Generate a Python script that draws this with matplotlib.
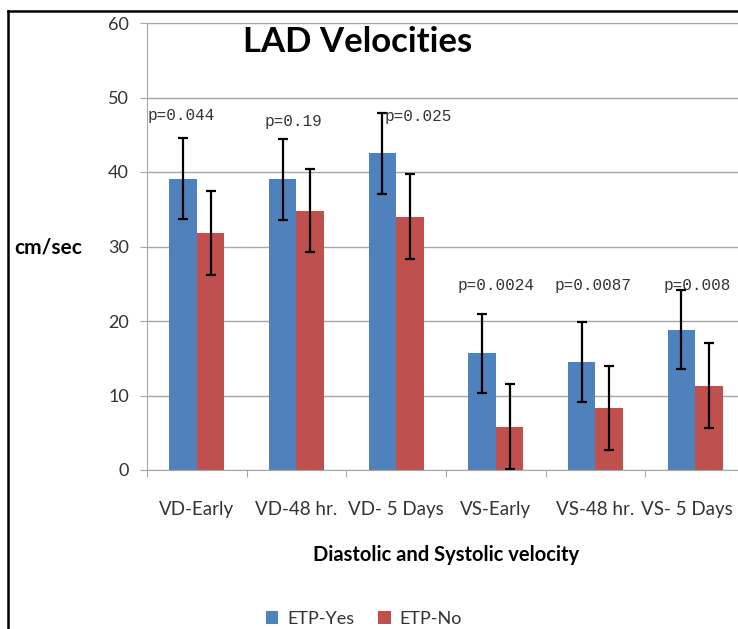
import numpy as np
import matplotlib.pyplot as plt
from matplotlib.lines import Line2D

categories = ["VD-Early", "VD-48 hr.", "VD- 5 Days", "VS-Early", "VS-48 hr.", "VS- 5 Days"]
etp_yes = [39.1, 39.0, 42.5, 15.7, 14.5, 18.8]
etp_no = [31.8, 34.8, 34.0, 5.8, 8.3, 11.3]
err_yes = [5.4, 5.4, 5.4, 5.3, 5.4, 5.3]
err_no = [5.6, 5.6, 5.7, 5.7, 5.6, 5.7]
p_labels = ["p=0.044", "p=0.19", "p=0.025", "p=0.0024", "p=0.0087", "p=0.008"]
p_x = [-0.16, -0.03, 0.22, 0.0, -0.02, 0.02]
p_y = [47.6, 46.8, 47.4, 24.8, 24.7, 24.8]

plt.rcParams["font.family"] = ["Lato", "DejaVu Sans"]

fig = plt.figure(figsize=(7.38, 6.29), dpi=100)
ax = fig.add_axes([147 / 738, 1 - 470 / 629, 598 / 738, 447 / 629])

x = np.arange(len(categories))
w = 0.275
ekw = dict(ecolor="black", elinewidth=1.6, capsize=3.8, capthick=1.6)
ax.bar(x - w / 2, etp_yes, w, color="#4F81BD", yerr=err_yes, error_kw=ekw,
       label="ETP-Yes", zorder=2)
ax.bar(x + w / 2, etp_no, w, color="#C0504D", yerr=err_no, error_kw=ekw,
       label="ETP-No", zorder=2)

for i, lab in enumerate(p_labels):
    ax.text(i + p_x[i], p_y[i], lab, ha="center", va="center",
            family="Liberation Mono", fontsize=11.5, color="#333333", zorder=3)

ax.set_xlim(-0.5, len(categories) - 0.5)
ax.set_ylim(0, 60)
ax.set_yticks(range(0, 61, 10))
ax.yaxis.grid(True, color="#a6a6a6", lw=1, zorder=0)
ax.set_axisbelow(True)
ax.set_xticks(np.arange(-0.5, len(categories), 1.0), minor=False)
ax.set_xticklabels([])
# last label nudged left so it stays inside the cropped right edge
label_pos = x.astype(float)
label_pos[-1] -= 0.08
ax.set_xticks(label_pos, minor=True)
ax.set_xticklabels(categories, minor=True, fontsize=13.5, color="#333333")
ax.tick_params(axis="x", which="minor", length=0, pad=22)
ax.tick_params(axis="x", which="major", length=5, color="#a6a6a6")
ax.tick_params(axis="y", length=5, color="#a6a6a6", labelsize=13,
               labelcolor="#333333", pad=8)
for s in ["top", "right"]:
    ax.spines[s].set_visible(False)
for s in ["left", "bottom"]:
    ax.spines[s].set_color("#a6a6a6")

ax.set_xlabel("Diastolic and Systolic velocity", fontsize=14.5, fontweight="bold",
              labelpad=20)
fig.text(48 / 738, 1 - 247 / 629, "cm/sec", ha="center", va="center",
         fontsize=15, fontweight="bold")
fig.text(358 / 738, 1 - 42 / 629, "LAD Velocities", ha="center", va="center",
         fontsize=25, fontweight="bold")

fig.legend(loc="center", bbox_to_anchor=(364 / 738, 1 - 619 / 629), ncol=2,
           frameon=False, fontsize=13, handlelength=0.7, handleheight=0.7,
           handletextpad=0.5, columnspacing=1.3, labelcolor="#333333")

fig.add_artist(Line2D([8 / 738, 1.0], [1 - 11 / 629, 1 - 11 / 629],
                      transform=fig.transFigure, color="black", lw=1.8))
fig.add_artist(Line2D([8 / 738, 8 / 738], [0, 1 - 11 / 629],
                      transform=fig.transFigure, color="black", lw=1.8))

plt.savefig("out.png", dpi=100)
